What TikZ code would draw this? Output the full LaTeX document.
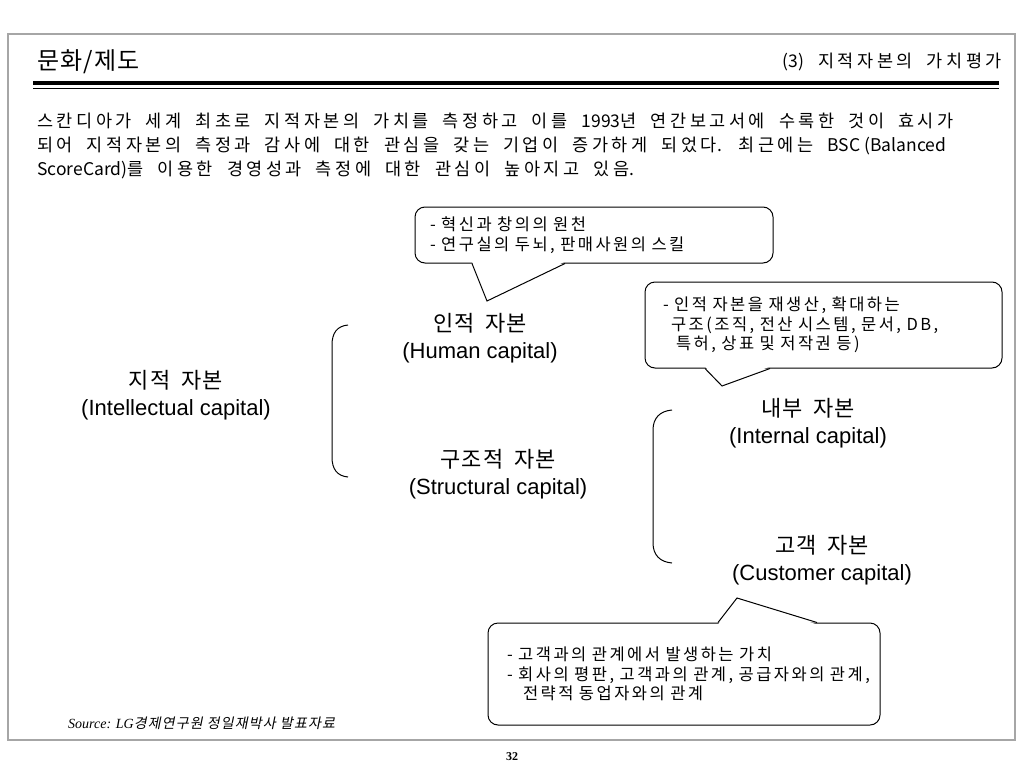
\documentclass[tikz,border=0pt]{standalone}
\usepackage{fontspec}
\setmainfont{Liberation Sans}
\newfontfamily\kr{Noto Sans CJK KR}
\newfontfamily\krcap[LetterSpace=5,WordSpace=1.8]{Noto Sans CJK KR}
\newfontfamily\krsp[LetterSpace=20,WordSpace=1.9]{Noto Sans CJK KR}
\newfontfamily\krbub[LetterSpace=15,WordSpace=2]{Noto Sans CJK KR}
\newfontfamily\krit[FakeSlant=0.2,LetterSpace=8]{Noto Sans CJK KR}
\newfontfamily\tms{Liberation Serif}
\usepackage{tikz}
\usetikzlibrary{calc}
\newcommand{\capitalfont}{\fontsize{22}{27}\selectfont}
\newcommand{\bubblefont}{\krbub\fontsize{16.5}{19.5}\selectfont}
\newcommand{\lattxt}[1]{{\kr #1}}
\tikzstyle{capital} = [align=center, inner sep=0pt, font=\capitalfont]
\tikzstyle{bubble} = [draw, rectangle, fill=white, rounded corners=10pt, line width=1pt, align=left, font=\bubblefont, inner ysep=0pt]
\tikzstyle{tail} = [draw, line width=1pt]
\tikzstyle{brace} = [draw, line width=1pt]

\begin{document}
\begin{tikzpicture}[x=1pt, y=-1pt]
    \fill[white] (0,0) rectangle (1024,768);
    \useasboundingbox (0,0) rectangle (1024,768);
    \draw[black!35, line width=1.5pt] (8,34) rectangle (1015,740);

    \node (title) [anchor=west, inner sep=0pt, font=\krcap\fontsize{24}{28}\selectfont] at (37,62) {문화/제도};
    \node (chapter) [anchor=east, inner sep=0pt, font=\krsp\fontsize{17.5}{24}\selectfont] at (1002,62) {\lattxt{(3)} 지적자본의 가치평가};
    \draw[line width=4pt] (33,83) -- (999,83);
    \draw[line width=1pt] (33,88) -- (999,88);

    \node (intro) [anchor=west, align=left, inner sep=0pt, font=\krsp\fontsize{17.5}{24}\selectfont] at (37,146)
        {스칸디아가 세계 최초로 지적자본의 가치를 측정하고 이를 \lattxt{1993}년 연간보고서에 수록한 것이 효시가\\
         되어 지적자본의 측정과 감사에 대한 관심을 갖는 기업이 증가하게 되었다\lattxt{.} 최근에는 \lattxt{BSC (Balanced}\\
         \lattxt{ScoreCard)}를 이용한 경영성과 측정에 대한 관심이 높아지고 있음\lattxt{.}};

    \node (intel) [capital] at (176,395) {{\krcap 지적 자본}\\(Intellectual capital)};
    \node (human) [capital] at (480,338) {{\krcap 인적 자본}\\(Human capital)};
    \node (struct) [capital] at (498,474) {{\krcap 구조적 자본}\\(Structural capital)};
    \node (internal) [capital] at (808,423) {{\krcap 내부 자본}\\(Internal capital)};
    \node (customer) [capital] at (822,560) {{\krcap 고객 자본}\\(Customer capital)};

    \draw[brace] (348,325) .. controls (337,326) and (332,333) .. (332,345) -- (332,457) .. controls (332,469) and (337,476) .. (348,477);
    \draw[brace] (672,410) .. controls (660,411) and (653,418) .. (653,430) -- (653,543) .. controls (653,555) and (660,562) .. (672,563);

    \node (humannote) [bubble, text width=338pt, inner xsep=10pt, minimum height=56pt] at (594,235)
        {\hspace*{5pt}- 혁신과 창의의 원천\\\hspace*{5pt}- 연구실의 두뇌, 판매사원의 스킬};
    \node (structnote) [bubble, text width=337pt, inner xsep=10pt, minimum height=86pt] at (823.5,325)
        {\hspace*{8pt}- 인적 자본을 재생산, 확대하는\\\hspace*{16pt}구조(조직, 전산 시스템, 문서, DB,\\\hspace*{21pt}특허, 상표 및 저작권 등)};
    \node (custnote) [bubble, text width=372pt, inner xsep=10pt, minimum height=102pt] at (684,674)
        {\hspace*{9pt}- 고객과의 관계에서 발생하는 가치\\\hspace*{9pt}- 회사의 평판, 고객과의 관계, 공급자와의 관계,\\\hspace*{25pt}전략적 동업자와의 관계};

    \coordinate (tip1) at (487,301);
    \coordinate (tip2) at (722,386);
    \coordinate (tip3) at (737,598);
    \fill[white] ($(tip1 |- humannote.south)+(-15,-2)$) -- (tip1) -- ($(tip1 |- humannote.south)+(78,-2)$) -- cycle;
    \draw[tail] ($(tip1 |- humannote.south)+(-15,0)$) -- (tip1) -- ($(tip1 |- humannote.south)+(78,0)$);
    \fill[white] ($(tip2 |- structnote.south)+(-17,-2)$) -- (tip2) -- ($(tip2 |- structnote.south)+(48,-2)$) -- cycle;
    \draw[tail] ($(tip2 |- structnote.south)+(-17,0)$) -- (tip2) -- ($(tip2 |- structnote.south)+(48,0)$);
    \fill[white] ($(tip3 |- custnote.north)+(-19,2)$) -- (tip3) -- ($(tip3 |- custnote.north)+(80,2)$) -- cycle;
    \draw[tail] ($(tip3 |- custnote.north)+(-19,0)$) -- (tip3) -- ($(tip3 |- custnote.north)+(80,0)$);

    \node (source) [anchor=west, inner sep=0pt, font=\fontsize{14}{16}\selectfont] at (68,723) {{\tms\itshape Source: LG}{\krit 경제연구원 정일재박사 발표자료}};
    \node (pagenum) [inner sep=0pt, font=\tms\bfseries\fontsize{12}{14}\selectfont] at (512,757) {32};
\end{tikzpicture}
\end{document}
